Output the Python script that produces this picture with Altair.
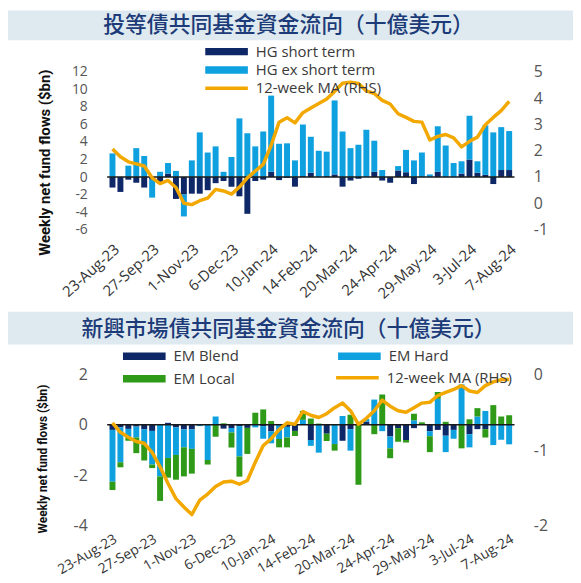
import altair as alt
import pandas as pd

# ---------------- data ----------------
weeks = [f"{d.day}-{d.strftime('%b-%y')}" for d in pd.date_range("2023-08-23", periods=51, freq="7D")]
tick_labels = weeks[::5]

hg_short = [-1.2, -1.7, -0.3, -0.65, -1.2, -0.3, -0.7, 0.4, -2.5, -2.0,
            -1.9, -1.9, -1.5, -0.7, -0.45, -1.1, -2.2, -4.2, -0.45, -0.3,
            0.6, -0.35, -0.1, -1.1, 0.1, 0.5, 0.0, 0.1, 0.3, -1.1,
            -0.4, -0.2, 0.0, 0.6, -0.4, -0.65, 0.75, 0.55, -0.8, 0.0,
            0.0, 0.6, 0.0, 0.0, 0.4, 2.0, 0.5, 0.25, -0.8, 0.8, 0.8]
hg_ex = [2.7, 0.0, 1.3, 3.3, 2.4, -2.05, 0.6, 1.2, 0.7, -2.5,
         1.9, 5.1, 2.8, 3.5, 0.6, 2.3, 6.7, 5.0, 3.5, 5.2,
         8.7, 3.8, 3.85, 1.9, 5.9, 4.1, 3.0, 2.8, 8.45, 5.2,
         3.3, 3.7, 5.4, 3.55, 0.8, 0.0, 0.5, 2.55, 1.9, 2.8,
         0.3, 5.2, 3.6, 1.6, 1.4, 5.0, 1.3, 5.65, 5.1, 4.9, 4.45]
hg_ma = [2.07, 1.77, 1.58, 1.50, 1.42, 0.97, 0.75, 0.87, 0.6, 0.0,
         -0.05, 0.1, 0.2, 0.53, 0.47, 0.35, 0.62, 0.97, 1.23, 1.48,
         2.21, 3.09, 3.26, 3.06, 3.45, 3.63, 3.80, 3.97, 4.26, 4.57,
         4.61, 4.56, 4.28, 4.18, 3.92, 3.78, 3.41, 3.27, 3.12, 3.09,
         2.41, 2.55, 2.62, 2.49, 2.15, 2.36, 2.52, 2.99, 3.27, 3.53, 3.88]

em_blend = [-0.2, -0.1, -0.16, -0.07, -0.17, -0.24, 0.0, 0.08, -0.1, -0.18,
            -0.18, 0.0, 0.0, 0.0, -0.15, -0.12, -0.05, -0.12, 0.0, -0.05,
            -0.26, 0.0, -0.08, -0.24, 0.0, -0.6, 0.0, -0.35, 0.0, -0.63,
            -0.17, 0.0, 0.13, 0.0, 0.0, -0.46, -0.13, -0.6, -0.13, 0.0,
            -0.25, -0.2, -0.43, -0.2, 0.0, -0.37, -0.17, -0.17, 0.0, 0.0, 0.0]
em_hard = [-2.05, -1.38, -0.34, -0.43, -0.61, -1.33, -2.04, -1.31, -1.09, -0.71,
           -0.77, -0.05, -1.39, 0.33, 0.0, -0.18, -1.2, 0.0, -0.1, -0.5,
           -0.47, -0.56, -0.42, 0.0, 0.2, -0.23, -1.1, 0.0, -0.76, 0.35,
           -0.85, 0.0, 0.1, 1.0, -0.25, -0.47, 0.0, 0.0, 0.18, 0.0,
           -0.2, 1.03, -0.65, -0.35, 1.6, -0.52, 0.33, 0.55, -0.8, -0.59, -0.77]
em_local = [-0.33, -0.2, -0.13, -0.62, -0.63, -0.14, -0.97, -0.78, -0.98, -1.15,
            -0.98, 0.0, -0.18, -0.47, 0.06, -0.6, -0.8, -1.03, 0.48, 0.61,
            0.15, -0.33, -0.39, -0.2, 0.35, 0.25, 0.05, -0.29, -0.26, 0.0,
            0.4, -2.37, 0.0, -0.37, 1.2, -0.39, -0.54, -0.1, 0.26, 0.1,
            -0.63, 0.27, 0.12, 0.0, -0.93, 0.22, 0.33, -0.33, 0.78, 0.33, 0.38]
em_ma = [-0.64, -0.765, -0.83, -0.887, -0.91, -1.03, -1.22, -1.44, -1.64, -1.75,
         -1.85, -1.66, -1.58, -1.48, -1.42, -1.41, -1.45, -1.40, -1.16, -0.94,
         -0.85, -0.73, -0.64, -0.66, -0.49, -0.54, -0.57, -0.52, -0.44, -0.38,
         -0.48, -0.66, -0.58, -0.48, -0.34, -0.42, -0.48, -0.50, -0.44, -0.38,
         -0.37, -0.28, -0.24, -0.20, -0.15, -0.22, -0.24, -0.15, -0.10, -0.07, -0.07]

top_title = "投等債共同基金資金流向（十億美元）"
bot_title = "新興市場債共同基金資金流向（十億美元）"
ma_name = "12-week MA (RHS)"
hg_names = ["HG short term", "HG ex short term"]
em_names = ["EM Blend", "EM Hard", "EM Local"]
em_legend_order = ["EM Blend", "EM Local", "EM Hard"]   # column-major legend grid

# ---------------- styles ----------------
NAVY = "#0e2766"
LIGHT = "#0ea0df"
GREEN = "#2f9a18"
ORANGE = "#f3a800"
BAND = "#deeaf0"
TITLE_C = "#1c3b78"
W, H1, H2 = 411, 159, 153
BAR_SYMBOL = "M-4.3,-0.75L4.3,-0.75L4.3,0.75L-4.3,0.75Z"
LINE_SYMBOL = "M-4.3,0L4.3,0"

def long_df(names, series):
    rows = []
    for k, (n, vals) in enumerate(zip(names, series)):
        for w, v in zip(weeks, vals):
            rows.append({"week": w, "series": n, "value": v, "ord": k})
    return pd.DataFrame(rows)

df_top = long_df(hg_names, [hg_short, hg_ex])
df_top_ma = pd.DataFrame({"week": weeks, "ma": hg_ma, "s": ma_name})
df_bot = long_df(em_names, [em_blend, em_hard, em_local])
df_bot_ma = pd.DataFrame({"week": weeks, "ma": em_ma, "s": ma_name})


def x_enc(angle, pad, size):
    return alt.X("week:N", sort=weeks,
                 scale=alt.Scale(paddingInner=0.25, paddingOuter=0.3),
                 axis=alt.Axis(values=tick_labels, labelAngle=angle, title=None, domain=False,
                               ticks=False, labelFontSize=size, labelColor="#333333",
                               labelFont="Open Sans", labelPadding=pad))


def panel(df, df_ma, names, colors, ldom, lvals, rdom, rvals, height, title, band_y, title_y,
          ytitle_x, ytitle_y, ytitle_size, bar_legend, ma_legend, angle, pad, xsize, lsize):
    xe = x_enc(angle, pad, xsize)
    band = alt.Chart(pd.DataFrame({"a": [0]})).mark_rect(color=BAND).encode(
        x=alt.value(-100), x2=alt.value(470), y=alt.value(band_y[0]), y2=alt.value(band_y[1]))
    ttl = alt.Chart(pd.DataFrame({"t": [title]})).mark_text(
        font="Noto Sans CJK TC", fontSize=22, fontWeight=500, color=TITLE_C, align="center",
        baseline="middle"
    ).encode(text="t:N", x=alt.value(183), y=alt.value(title_y))
    yaxis = alt.Axis(values=lvals, title="Weekly net fund flows ($bn)", labelExpr="datum.value + ''",
                     domain=False, ticks=False, grid=False, labelFontSize=lsize, labelOverlap=False,
                     labelFont="Open Sans", labelColor="#555555", labelPadding=20,
                     titleFont="Liberation Sans Narrow, Roboto", titleFontSize=ytitle_size,
                     titleFontWeight="bold", titleColor="#111111",
                     titleX=ytitle_x, titleY=ytitle_y, titleBaseline="middle", titleAlign="center")
    yscale = alt.Scale(domain=ldom, nice=False, zero=False)
    bars = alt.Chart(df).mark_bar().encode(
        x=xe,
        y=alt.Y("value:Q", stack="zero", scale=yscale, axis=yaxis),
        color=alt.Color("series:N", scale=alt.Scale(domain=names, range=colors), legend=bar_legend),
        order=alt.Order("ord:Q"),
    )
    zero = alt.Chart(pd.DataFrame({"value": [0.0]})).mark_rule(color="#1a1a1a", strokeWidth=1.5).encode(
        y=alt.Y("value:Q", scale=yscale, axis=yaxis))
    line = alt.Chart(df_ma).mark_line(strokeWidth=3.5, strokeJoin="round").encode(
        x=xe,
        y=alt.Y("ma:Q", scale=alt.Scale(domain=rdom, nice=False, zero=False),
                axis=alt.Axis(orient="right", values=rvals, title=None, labelExpr="datum.value + ''",
                              domain=False, ticks=False, grid=False, labelFontSize=16, labelOverlap=False,
                              labelFont="Open Sans", labelColor="#555555", labelPadding=19)),
        color=alt.Color("s:N", scale=alt.Scale(domain=[ma_name], range=[ORANGE]), legend=ma_legend),
    )
    return alt.layer(band, ttl, alt.layer(bars, zero), line).resolve_scale(
        y="independent", color="independent").properties(width=W, height=height)


common_leg = dict(orient="none", title=None, labelFontSize=15, labelFont="Open Sans",
                  labelColor="#3a3a3a", symbolSize=100, padding=0, labelOffset=22)

top_bar_leg = alt.Legend(legendX=113, legendY=-28, symbolType=BAR_SYMBOL, symbolStrokeWidth=0,
                         rowPadding=2.5, **common_leg)
top_ma_leg = alt.Legend(legendX=113, legendY=9, symbolType=LINE_SYMBOL, symbolStrokeWidth=3.5,
                        **common_leg)
bot_bar_leg = alt.Legend(legendX=30, legendY=-26, symbolType=BAR_SYMBOL, symbolStrokeWidth=0,
                         rowPadding=7, columns=2, columnPadding=100, **common_leg)
bot_ma_leg = alt.Legend(legendX=245, legendY=-4, symbolType=LINE_SYMBOL, symbolStrokeWidth=3.5,
                        **common_leg)

top = panel(df_top, df_top_ma, hg_names, [NAVY, LIGHT], [-6, 12], list(range(-6, 13, 2)),
            [-1, 5], list(range(-1, 6)), H1, top_title, (-62, -32), -47,
            -63, 91, 15, top_bar_leg, top_ma_leg, -42, 12, 15, 14)
bottom = panel(df_bot, df_bot_ma, em_legend_order, [NAVY, GREEN, LIGHT], [-4, 2], [-4, -2, 0, 2],
               [-2, 0], [-2, -1, 0], H2, bot_title, (-63, -30), -46,
               -65, 85, 12, bot_bar_leg, bot_ma_leg, -30, 6, 14, 16)

chart = alt.vconcat(top, bottom, spacing=10).properties(
    padding={"left": 0, "top": 0, "right": 0, "bottom": 0}, background="white"
).configure_view(stroke=None).configure_axis(labelOverlap=False)

chart.save("out.html", embed_options={"renderer": "svg", "actions": False})
